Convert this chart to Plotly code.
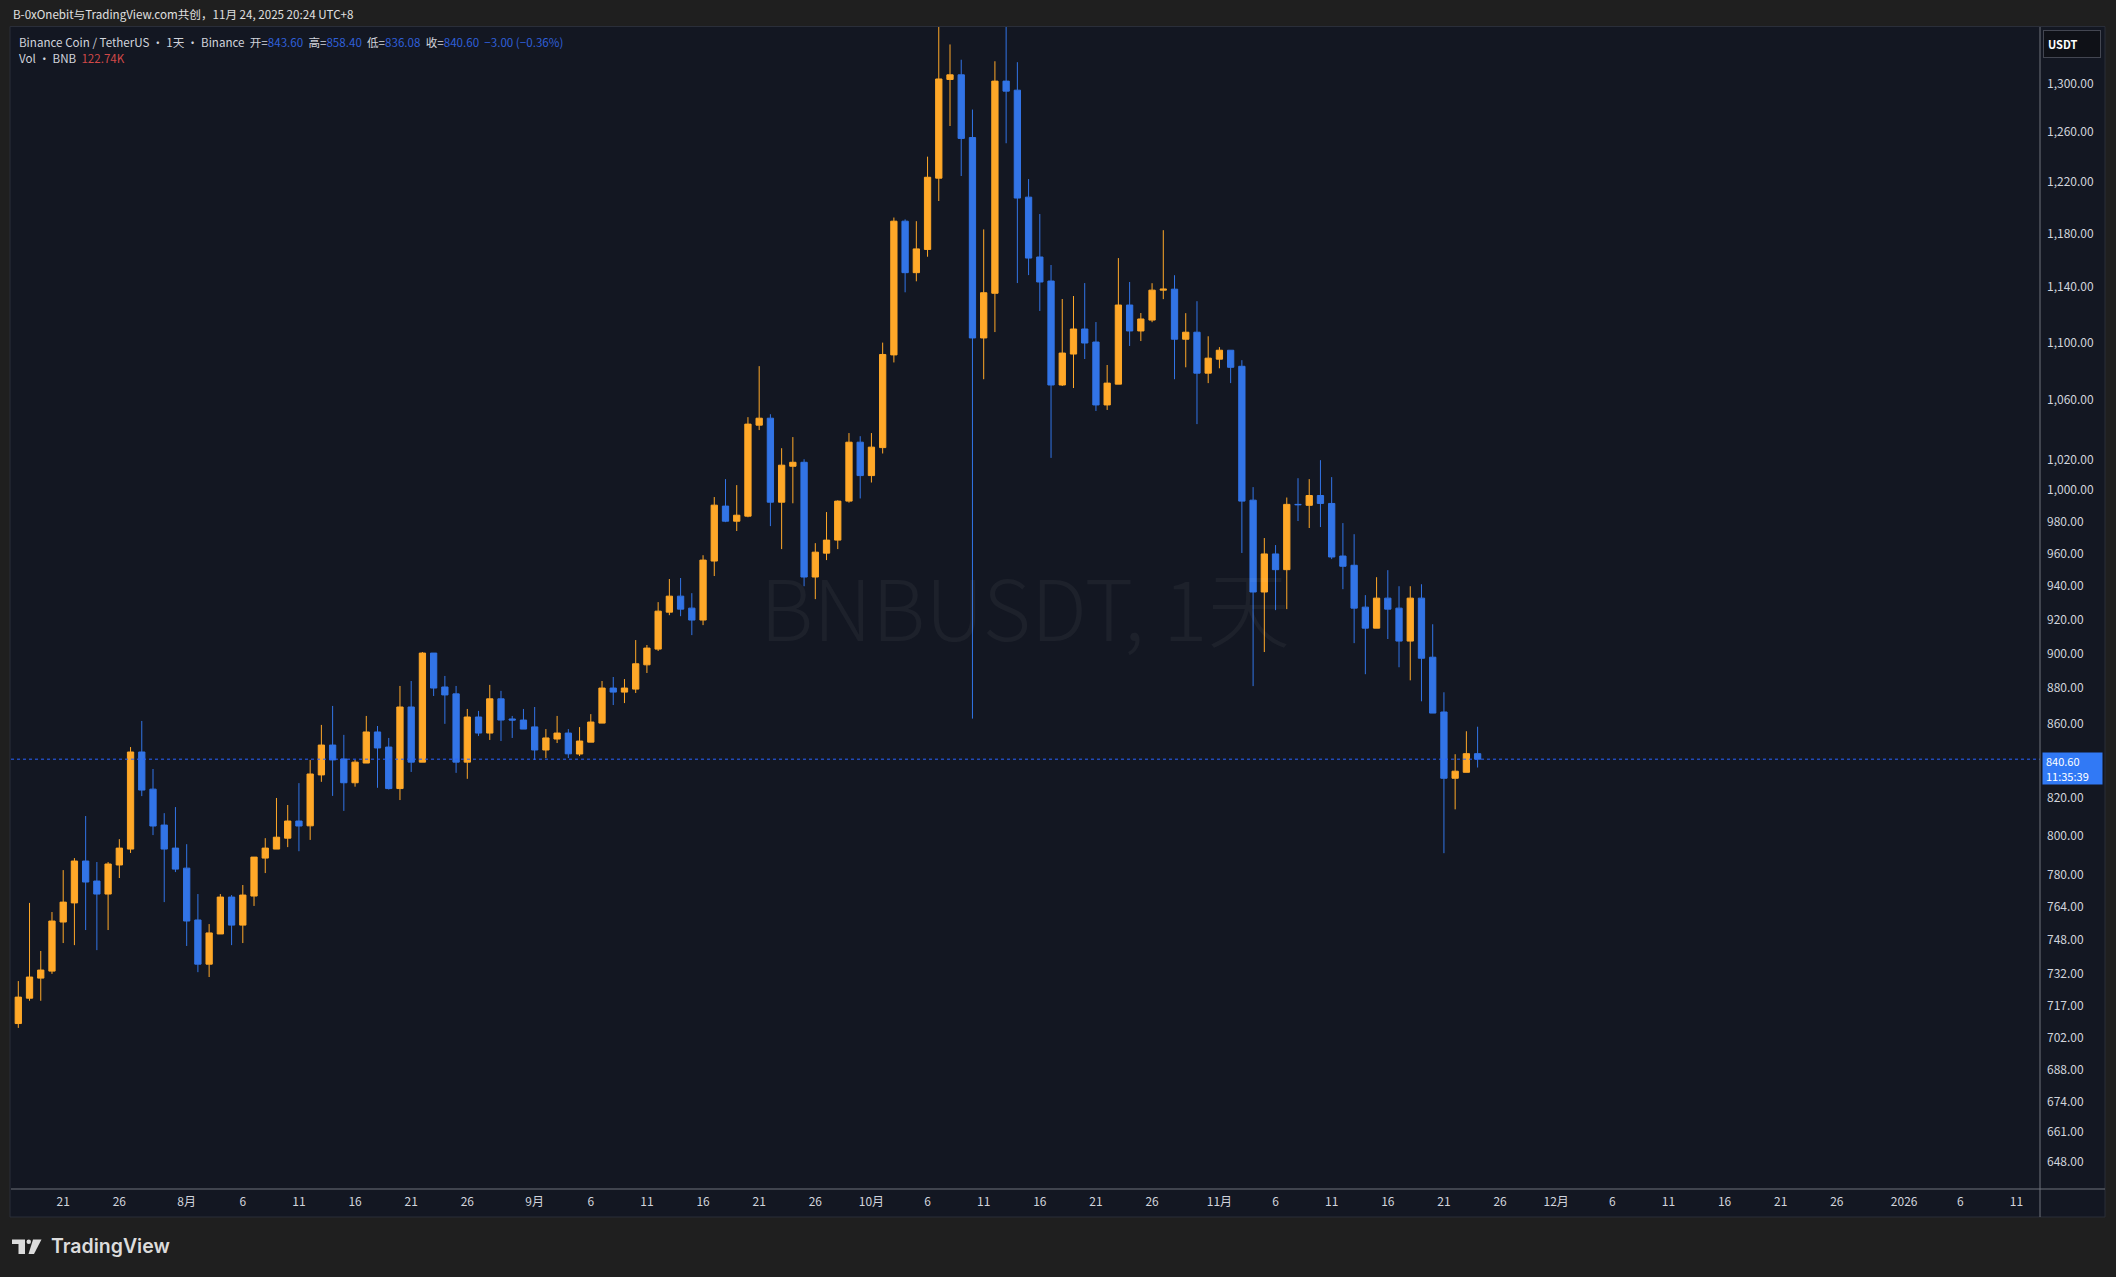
import math

import pandas as pd
import plotly.graph_objects as go

# BNB/USDT daily candles, 2025-07-17 .. 2025-11-24
start_date = "2025-07-17"

opens = [
    708.7, 720.4, 729.8, 733.1, 756.7, 766.1, 787.1, 777.0, 770.5, 785.1,
    793.2, 844.5, 824.5, 805.6, 793.7, 783.5, 757.7, 736.4, 750.9, 769.0,
    755.2, 769.5, 788.6, 793.2, 798.8, 807.7, 805.2, 832.1, 848.3, 840.7,
    827.9, 838.5, 855.5, 847.2, 824.8, 869.4, 839.0, 900.2, 880.7, 876.8,
    839.0, 863.8, 854.9, 874.0, 862.7, 862.1, 858.3, 845.6, 851.6, 854.9,
    843.4, 849.9, 860.4, 880.1, 877.8, 879.5, 893.4, 902.5, 924.3, 933.9,
    926.7, 919.6, 955.3, 989.8, 980.2, 983.4, 1042.9, 1047.6, 992.3, 1015.6,
    1018.2, 945.5, 960.2, 968.3, 993.0, 1031.5, 1009.5, 1027.9, 1091.3, 1189.7,
    1150.8, 1168.2, 1223.2, 1303.7, 1307.6, 1255.7, 1103.3, 1135.6, 1302.3, 1294.7,
    1208.3, 1162.5, 1144.6, 1070.3, 1091.9, 1109.7, 1100.4, 1056.6, 1070.9, 1127.0,
    1108.3, 1116.1, 1137.9, 1138.6, 1102.4, 1107.4, 1078.5, 1088.3, 1094.6, 1083.3,
    993.6, 936.4, 959.7, 950.0, 990.9, 990.3, 996.6, 991.5, 958.4, 952.7,
    927.3, 914.8, 932.7, 926.7, 907.2, 932.7, 897.8, 866.6, 830.3, 833.5,
    843.6,
]
highs = [
    728.4, 766.1, 742.7, 761.6, 782.5, 788.6, 810.3, 786.6, 786.6, 798.3,
    847.2, 861.6, 835.3, 811.8, 815.0, 795.7, 770.5, 755.7, 770.5, 770.0,
    775.0, 789.1, 798.8, 819.8, 816.1, 827.7, 840.2, 859.4, 870.0, 853.9,
    840.2, 864.4, 858.8, 852.2, 881.3, 884.1, 900.8, 900.2, 887.0, 881.3,
    868.3, 867.2, 881.9, 878.5, 864.4, 868.3, 869.4, 857.1, 864.4, 857.1,
    858.2, 865.4, 884.1, 886.4, 885.2, 907.8, 904.9, 930.3, 944.3, 944.9,
    935.7, 958.9, 995.6, 1007.2, 1003.3, 1048.3, 1083.4, 1050.3, 1027.5, 1034.9,
    1020.2, 966.4, 986.0, 993.5, 1037.6, 1035.5, 1037.6, 1100.0, 1192.5, 1191.1,
    1189.7, 1240.3, 1352.0, 1333.5, 1320.4, 1278.6, 1183.4, 1319.1, 1370.0, 1318.3,
    1222.5, 1195.2, 1156.5, 1131.4, 1133.6, 1143.1, 1114.7, 1084.2, 1161.7, 1143.9,
    1121.2, 1143.0, 1182.8, 1148.9, 1121.1, 1129.8, 1104.5, 1096.8, 1094.6, 1087.6,
    1002.0, 969.6, 965.2, 995.3, 1007.8, 1007.2, 1019.6, 1008.5, 979.0, 972.0,
    934.5, 945.4, 949.7, 939.9, 939.9, 941.1, 917.1, 877.7, 843.3, 855.9,
    858.4,
]
lows = [
    706.7, 719.2, 719.2, 731.8, 746.5, 745.5, 752.8, 743.1, 752.8, 778.5,
    791.2, 820.8, 800.4, 766.5, 781.5, 745.1, 732.6, 730.3, 750.9, 745.5,
    746.5, 764.6, 781.0, 793.2, 794.2, 792.1, 797.9, 828.4, 820.9, 813.0,
    825.8, 838.5, 825.2, 824.3, 818.7, 833.7, 839.0, 875.6, 860.0, 833.2,
    830.0, 853.3, 851.1, 850.5, 852.2, 857.1, 840.2, 841.2, 849.4, 841.2,
    842.3, 849.9, 860.4, 870.5, 871.6, 877.3, 888.7, 901.4, 922.5, 921.9,
    910.7, 916.6, 946.1, 979.6, 974.0, 982.7, 1039.6, 977.1, 962.7, 991.6,
    939.9, 932.1, 955.9, 962.7, 992.0, 994.7, 1005.0, 1024.0, 1086.0, 1136.3,
    1144.4, 1162.7, 1205.3, 1265.1, 1224.9, 862.9, 1074.3, 1107.5, 1251.1, 1143.1,
    1149.0, 1122.7, 1021.1, 1069.6, 1068.2, 1088.4, 1052.5, 1053.2, 1070.9, 1097.6,
    1101.1, 1114.6, 1131.3, 1074.3, 1082.6, 1043.6, 1071.6, 1081.9, 1071.6, 960.3,
    881.2, 900.8, 925.5, 926.1, 980.3, 975.9, 976.5, 956.5, 938.1, 906.0,
    888.0, 914.8, 908.4, 892.0, 884.5, 872.6, 866.0, 791.1, 813.8, 833.5,
    836.08,
]
closes = [
    720.9, 730.3, 733.6, 757.2, 766.5, 787.1, 776.5, 770.5, 785.6, 793.7,
    844.5, 824.0, 805.1, 793.2, 783.0, 757.2, 736.4, 751.4, 769.0, 755.2,
    770.0, 789.1, 793.7, 799.3, 807.7, 805.1, 832.6, 848.3, 840.2, 827.9,
    839.0, 855.5, 846.7, 824.8, 869.4, 839.0, 900.2, 880.1, 876.2, 839.0,
    863.8, 854.9, 874.0, 862.1, 862.1, 857.1, 845.6, 852.2, 854.9, 843.5,
    850.5, 861.0, 880.1, 877.8, 880.1, 894.0, 903.1, 924.9, 933.9, 926.1,
    919.6, 955.9, 990.4, 980.2, 984.0, 1043.6, 1047.6, 992.3, 1016.3, 1018.2,
    945.5, 960.8, 968.3, 993.0, 1031.5, 1009.5, 1028.2, 1091.6, 1189.7, 1150.8,
    1168.6, 1223.9, 1304.1, 1307.6, 1255.0, 1103.3, 1136.0, 1302.3, 1293.9, 1207.6,
    1161.7, 1143.9, 1070.3, 1092.6, 1109.7, 1099.7, 1056.6, 1071.6, 1127.0, 1108.3,
    1116.9, 1137.9, 1138.6, 1102.4, 1107.4, 1078.5, 1089.0, 1094.6, 1082.6, 993.0,
    936.4, 959.7, 950.0, 990.9, 990.7, 996.6, 991.5, 957.8, 952.1, 926.7,
    914.8, 932.7, 926.1, 907.2, 932.7, 897.2, 866.0, 830.3, 834.1, 843.6,
    840.6,
]

dates = pd.date_range(start_date, periods=len(closes), freq="D")

# eje de tiempo (estilo TradingView)
x_ticks = [
    "2025-07-21", "2025-07-26", "2025-08-01", "2025-08-06", "2025-08-11",
    "2025-08-16", "2025-08-21", "2025-08-26", "2025-09-01", "2025-09-06",
    "2025-09-11", "2025-09-16", "2025-09-21", "2025-09-26", "2025-10-01",
    "2025-10-06", "2025-10-11", "2025-10-16", "2025-10-21", "2025-10-26",
    "2025-11-01", "2025-11-06", "2025-11-11", "2025-11-16", "2025-11-21",
    "2025-11-26", "2025-12-01", "2025-12-06", "2025-12-11", "2025-12-16",
    "2025-12-21", "2025-12-26", "2026-01-01", "2026-01-06", "2026-01-11",
]
x_labels = [
    "21", "26", "8月", "6", "11", "16", "21", "26", "9月", "6",
    "11", "16", "21", "26", "10月", "6", "11", "16", "21", "26",
    "11月", "6", "11", "16", "21", "26", "12月", "6", "11", "16",
    "21", "26", "2026", "6", "11",
]
y_ticks = [
    1300, 1260, 1220, 1180, 1140, 1100, 1060, 1020, 1000, 980, 960, 940,
    920, 900, 880, 860, 820, 800, 780, 764, 748, 732, 717, 702, 688, 674,
    661, 648,
]

x_range = ["2025-07-16 08:24", "2026-01-13 02:24"]
y_range = [636.9, 1348.6]

UP = "#FFA828"
DOWN = "#3274E6"
BG = "#131722"
OUTER = "#1f1f1f"
TXT = "#d1d4dc"
AXIS = "#6f727b"
VAL = "#2f5fd8"
FONT = "Noto Sans CJK SC, Noto Sans, sans-serif"

W, H = 2116, 1277
ML, MR, MT, MB = 11, 76, 27, 88


def px(x):
    return (x - ML) / (W - ML - MR)


def py(y):
    return (H - MB - y) / (H - MT - MB)


fig = go.Figure()

fig.add_trace(go.Candlestick(
    x=dates, open=opens, high=highs, low=lows, close=closes,
    increasing=dict(line=dict(color=UP, width=1), fillcolor=UP),
    decreasing=dict(line=dict(color=DOWN, width=1), fillcolor=DOWN),
    whiskerwidth=0, showlegend=False, hoverinfo="skip",
))

# linea punteada del ultimo precio
last = closes[-1]
fig.add_trace(go.Scatter(
    x=x_range, y=[last, last], mode="lines",
    line=dict(color="#2962ff", width=1, dash="dot"),
    showlegend=False, hoverinfo="skip",
))

fig.update_layout(
    width=W, height=H,
    margin=dict(l=ML, r=MR, t=MT, b=MB),
    paper_bgcolor=OUTER,
    plot_bgcolor=BG,
    font=dict(family=FONT, size=12, color=TXT),
    boxgap=0.2,
    showlegend=False,
    xaxis=dict(
        type="date", range=x_range, rangeslider=dict(visible=False),
        showgrid=False, zeroline=False, showline=False, ticks="",
        tickvals=x_ticks, ticktext=x_labels, ticklabelstandoff=4,
        tickfont=dict(size=12, color=TXT),
    ),
    yaxis=dict(
        type="log", side="right",
        range=[math.log10(y_range[0]), math.log10(y_range[1])],
        showgrid=False, zeroline=False, showline=False, ticks="",
        tickvals=y_ticks, tickformat=",.2f", ticklabelstandoff=6,
        tickfont=dict(size=12, color=TXT),
    ),
)

# panel, ejes y logo
shapes = [
    dict(type="rect", xref="paper", yref="paper", layer="below",
         x0=px(10), x1=px(2105), y0=py(1217), y1=py(26.5),
         fillcolor=BG, line=dict(color="#2a2e39", width=1)),
    dict(type="line", xref="paper", yref="paper",
         x0=px(11), x1=px(2105), y0=0, y1=0, line=dict(color=AXIS, width=1)),
    dict(type="line", xref="paper", yref="paper",
         x0=1, x1=1, y0=py(1217), y1=py(27), line=dict(color=AXIS, width=1)),
    # logo TV
    dict(type="path", xref="paper", yref="paper", line=dict(width=0), fillcolor="#dcdcdc",
         path=f"M {px(12)},{py(1239.5)} L {px(25)},{py(1239.5)} L {px(25)},{py(1254)} "
              f"L {px(18.5)},{py(1254)} L {px(18.5)},{py(1244)} L {px(12)},{py(1244)} Z"),
    dict(type="circle", xref="paper", yref="paper", line=dict(width=0), fillcolor="#dcdcdc",
         x0=px(26.5), x1=px(31), y0=py(1244), y1=py(1239.5)),
    dict(type="path", xref="paper", yref="paper", line=dict(width=0), fillcolor="#dcdcdc",
         path=f"M {px(33)},{py(1239.5)} L {px(41.5)},{py(1239.5)} L {px(34)},{py(1254)} "
              f"L {px(28.5)},{py(1254)} Z"),
]
fig.update_layout(shapes=shapes)


def val(v):
    return f"<span style='color:{VAL}'>{v}</span>"


chg = closes[-1] - closes[-2]
pct = chg / closes[-2] * 100
sp = "\u00a0"
leyenda = (
    f"Binance Coin / TetherUS · 1天 · Binance{sp}{sp}"
    f"开={val(f'{opens[-1]:.2f}')}{sp}{sp}高={val(f'{highs[-1]:.2f}')}{sp}{sp}"
    f"低={val(f'{lows[-1]:.2f}')}{sp}{sp}收={val(f'{closes[-1]:.2f}')}{sp}{sp}"
    + val(f"{chg:+.2f} ({pct:+.2f}%)".replace("-", "−"))
)

annotations = [
    dict(text="B-0xOnebit与TradingView.com共创，11月 24, 2025 20:24 UTC+8",
         x=0, y=py(14), xref="paper", yref="paper", xanchor="left", yanchor="middle",
         showarrow=False, font=dict(size=11.6, color="#e0e0e0")),
    dict(text=leyenda, x=px(17), y=py(42), xref="paper", yref="paper",
         xanchor="left", yanchor="middle", showarrow=False, font=dict(size=11.6, color=TXT)),
    dict(text=f"Vol · BNB{sp}{sp}<span style='color:#d04848'>122.74K</span>",
         x=px(17), y=py(58), xref="paper", yref="paper",
         xanchor="left", yanchor="middle", showarrow=False, font=dict(size=11.6, color=TXT)),
    dict(text="BNBUSDT, 1天", x=0.4998, y=0.5026, xref="paper", yref="paper",
         xanchor="center", yanchor="middle", showarrow=False,
         font=dict(size=83, color="rgba(255,255,255,0.045)", weight=300)),
    dict(text=f"{last:.2f}<br>11:35:39", x=1, xshift=2, y=math.log10(last), yshift=-9,
         xref="paper", yref="y", xanchor="left", yanchor="middle", showarrow=False,
         align="left", width=53, height=25, borderpad=3, bgcolor="#3179F5",
         font=dict(size=11, color="#ffffff")),
    dict(text="USDT", x=1, xshift=3, y=py(43.5), xref="paper", yref="paper",
         xanchor="left", yanchor="middle", showarrow=False, align="left",
         width=48, height=18, borderpad=4, bgcolor="#0f1117",
         bordercolor="#434651", borderwidth=1, font=dict(size=11, color="#ffffff", weight=600)),
    dict(text="TradingView", x=px(49), y=py(1246), xref="paper", yref="paper",
         xanchor="left", yanchor="middle", showarrow=False,
         font=dict(family="Inter, Noto Sans, sans-serif", size=19.5, color="#dcdcdc", weight=600)),
]
fig.update_layout(annotations=annotations)

fig.write_html("out.html", config={"displayModeBar": False},
               post_script="document.body.style.margin='0';document.body.style.overflow='hidden';")
